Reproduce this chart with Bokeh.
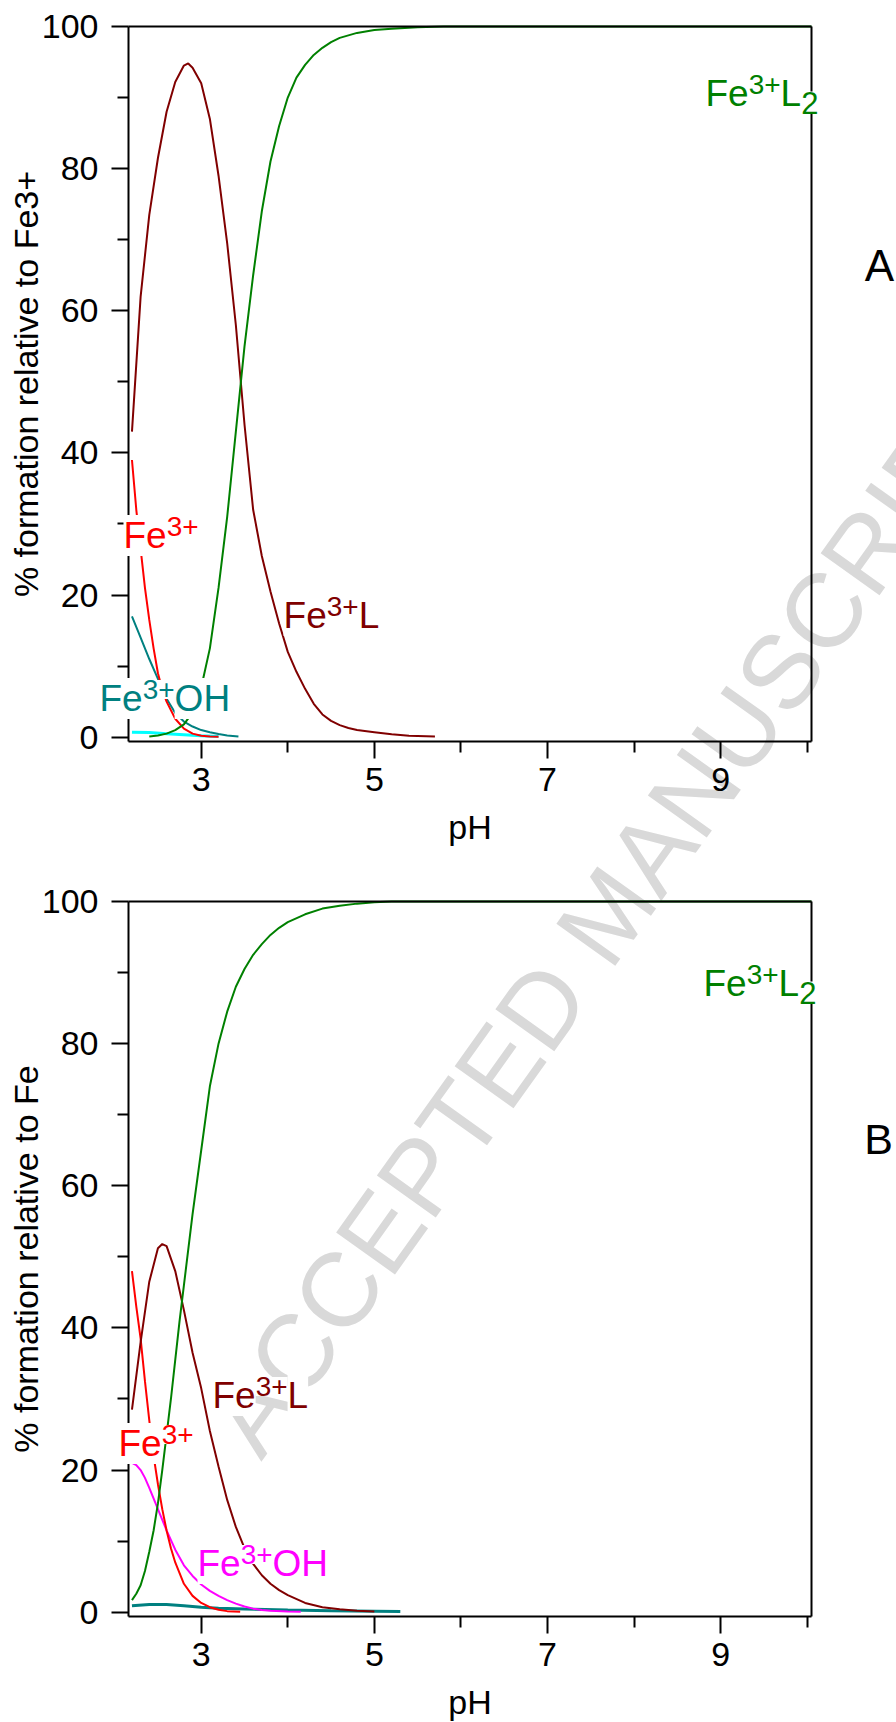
import math

from bokeh.embed import file_html
from bokeh.models import FixedTicker, Label, LinearAxis, Range1d
from bokeh.plotting import figure
from bokeh.resources import INLINE

# ---------------------------------------------------------------- panel A ---
# Species distribution, % relative to Fe3+
a_ph_fe = [2.2, 2.25, 2.3, 2.35, 2.4, 2.45, 2.5, 2.55, 2.6, 2.7, 2.8, 2.9, 3.0, 3.1, 3.2]
a_fe = [39, 32, 26.5, 21, 16.5, 12.5, 9, 6.7, 5, 2.6, 1.2, 0.5, 0.2, 0.1, 0.05]

a_ph_fel = [2.2, 2.3, 2.4, 2.5, 2.6, 2.7, 2.8, 2.85, 2.9, 3.0, 3.1, 3.2, 3.3, 3.4, 3.5,
            3.6, 3.7, 3.8, 3.9, 4.0, 4.1, 4.2, 4.3, 4.4, 4.5, 4.6, 4.7, 4.8, 5.0, 5.2,
            5.4, 5.7]
a_fel = [43, 62, 73.5, 81.5, 88, 92.2, 94.5, 94.8, 94.2, 92, 87, 79, 69.5, 58, 44,
         32, 25.5, 20.5, 16, 12, 9.2, 6.8, 4.7, 3.2, 2.3, 1.7, 1.3, 1.0, 0.7, 0.4,
         0.2, 0.1]

a_ph_fel2 = [2.4, 2.5, 2.6, 2.7, 2.8, 2.9, 3.0, 3.1, 3.2, 3.3, 3.4, 3.5, 3.6, 3.7,
             3.8, 3.9, 4.0, 4.1, 4.2, 4.3, 4.4, 4.5, 4.6, 4.8, 5.0, 5.2, 5.5, 5.8,
             6.5, 8.0, 10.05]
a_fel2 = [0.1, 0.25, 0.5, 1.0, 1.8, 3.5, 7, 12.5, 21, 31, 43, 55, 65, 74,
          81, 86, 90, 92.8, 94.6, 96, 97, 97.8, 98.4, 99.1, 99.5, 99.7, 99.9, 100,
          100, 100, 100]

a_ph_feoh = [2.2, 2.3, 2.4, 2.5, 2.6, 2.7, 2.8, 2.9, 3.0, 3.1, 3.2, 3.3, 3.43]
a_feoh = [17, 14, 11, 8.2, 5.4, 3.4, 2.2, 1.5, 1.0, 0.7, 0.45, 0.25, 0.1]

a_ph_minor = [2.2, 2.4, 2.6, 2.8, 3.0, 3.2]
a_minor = [0.7, 0.65, 0.5, 0.35, 0.2, 0.1]

# ---------------------------------------------------------------- panel B ---
# Species distribution, % relative to total Fe
b_ph_fe = [2.2, 2.25, 2.3, 2.35, 2.4, 2.45, 2.5, 2.55, 2.6, 2.65, 2.7, 2.8, 2.9, 3.0,
           3.1, 3.2, 3.3, 3.45]
b_fe = [48, 43, 38.5, 32.5, 27, 22, 18, 14.5, 11.5, 9, 7, 4, 2.3, 1.3,
        0.7, 0.35, 0.15, 0.05]

b_ph_fel = [2.2, 2.3, 2.4, 2.5, 2.55, 2.6, 2.7, 2.8, 2.9, 3.0, 3.1, 3.2, 3.3, 3.4,
            3.5, 3.6, 3.7, 3.8, 3.9, 4.0, 4.2, 4.4, 4.6, 4.8, 5.0]
b_fel = [28.5, 38, 46.5, 51.2, 51.8, 51.5, 48, 42.5, 36.5, 31.5, 25.5, 20.5, 15.8, 12,
         9.0, 6.8, 5.2, 4.0, 3.1, 2.4, 1.3, 0.7, 0.4, 0.2, 0.1]

b_ph_fel2 = [2.2, 2.25, 2.3, 2.35, 2.4, 2.45, 2.5, 2.55, 2.6, 2.65, 2.7, 2.75, 2.8,
             2.9, 3.0, 3.1, 3.2, 3.3, 3.4, 3.5, 3.6, 3.7, 3.8, 3.9, 4.0, 4.2, 4.4,
             4.6, 4.8, 5.0, 5.2, 6.5, 8.0, 10.05]
b_fel2 = [1.7, 2.6, 3.8, 5.8, 8.5, 11.5, 15.3, 20, 25, 30, 35.5, 41, 46,
          56, 65, 74, 80, 84.5, 88, 90.5, 92.5, 94, 95.3, 96.3, 97.1, 98.2, 99,
          99.4, 99.7, 99.9, 100, 100, 100, 100]

b_ph_feoh = [2.2, 2.25, 2.3, 2.35, 2.4, 2.5, 2.6, 2.7, 2.8, 2.9, 3.0, 3.1, 3.2, 3.3,
             3.4, 3.5, 3.6, 3.7, 3.8, 4.0, 4.15]
b_feoh = [21, 20.7, 20, 18.9, 17.5, 14.5, 11.5, 8.8, 6.6, 5.1, 3.9, 3.0, 2.3, 1.7,
          1.2, 0.8, 0.5, 0.3, 0.2, 0.1, 0.05]

b_ph_minor = [2.2, 2.4, 2.6, 2.8, 3.0, 3.2, 3.5, 4.0, 4.5, 5.0, 5.3]
b_minor = [0.9, 1.1, 1.1, 0.9, 0.7, 0.55, 0.45, 0.3, 0.2, 0.15, 0.1]

x_ticks = [3, 5, 7, 9]
x_minor_ticks = [4, 6, 8, 10]
y_ticks = [0, 20, 40, 60, 80, 100]
y_minor_ticks = [10, 30, 50, 70, 90]

PH_MIN, PH_MAX = 2.16, 10.05      # extent of each panel's box along pH
PCT_MIN, PCT_MAX = -0.6, 100      # extent of each panel's box along %

GREEN = "#008000"
MAROON = "#800000"
RED = "#ff0000"
TEAL = "#008080"
CYAN = "#00ffff"
MAGENTA = "#ff00ff"

FONT = "Liberation Sans"

# advance widths (1/1000 em) of the glyphs used in the species names
ADVANCE = {"F": 611, "e": 556, "3": 556, "+": 584, "L": 556, "O": 778, "H": 722, "2": 556}
SIZES = {"base": 37, "sup": 28, "sub": 31}
SHIFT = {"base": 0, "sup": 9, "sub": -9}

# One canvas holds both panels; each panel has its own % scale.
p = figure(width=896, height=1722, x_range=Range1d(0.6813, 11.0319),
           y_range=Range1d(-138.638, 103.658), x_axis_type=None, y_axis_type=None,
           output_backend="svg", toolbar_location=None,
           min_border_left=0, min_border_right=0, min_border_top=0, min_border_bottom=0)
p.extra_y_ranges = {"b": Range1d(-15.520, 226.776)}
p.grid.visible = False
p.outline_line_color = None
p.background_fill_color = "white"
p.border_fill_color = "white"


def style_axis(ax):
    ax.axis_line_width = 2
    ax.axis_line_color = "black"
    ax.major_tick_line_width = 2
    ax.minor_tick_line_width = 2
    ax.major_tick_line_color = "black"
    ax.minor_tick_line_color = "black"
    ax.major_tick_in = 0
    ax.major_tick_out = 17
    ax.minor_tick_in = 0
    ax.minor_tick_out = 11
    ax.major_label_text_font = FONT
    ax.major_label_text_font_size = "34px"
    ax.major_label_text_color = "black"
    ax.axis_label_text_font = FONT
    ax.axis_label_text_font_size = "34px"
    ax.axis_label_text_font_style = "normal"
    ax.axis_label_text_color = "black"


def add_frame(range_name, ylabel):
    kw = {} if range_name is None else {"y_range_name": range_name}
    xax = LinearAxis(fixed_location=PCT_MIN, bounds=(PH_MIN, PH_MAX), axis_label="pH",
                     ticker=FixedTicker(ticks=x_ticks, minor_ticks=x_minor_ticks), **kw)
    style_axis(xax)
    xax.major_label_standoff = 10
    xax.axis_label_standoff = 13
    p.add_layout(xax, "below")

    yax = LinearAxis(fixed_location=PH_MIN, bounds=(PCT_MIN, PCT_MAX), axis_label=ylabel,
                     ticker=FixedTicker(ticks=y_ticks, minor_ticks=y_minor_ticks), **kw)
    style_axis(yax)
    yax.major_label_standoff = 13
    yax.axis_label_standoff = -6
    p.add_layout(yax, "left")

    # closing lines of the box: top and right
    top = LinearAxis(fixed_location=PCT_MAX, bounds=(PH_MIN, PH_MAX),
                     ticker=FixedTicker(ticks=[]), **kw)
    style_axis(top)
    top.major_tick_out = 0
    top.minor_tick_out = 0
    p.add_layout(top, "above")

    right = LinearAxis(fixed_location=PH_MAX, bounds=(PCT_MIN, PCT_MAX),
                       ticker=FixedTicker(ticks=[]), **kw)
    style_axis(right)
    right.major_tick_out = 0
    right.minor_tick_out = 0
    p.add_layout(right, "right")


def curve(xs, ys, color, width, range_name=None):
    kw = {} if range_name is None else {"y_range_name": range_name}
    p.line(xs, ys, line_color=color, line_width=width, level="guide", **kw)


def chem_label(x, y, parts, color, range_name=None):
    """Species name built from normal, superscript and subscript pieces."""
    kw = {} if range_name is None else {"y_range_name": range_name}
    dx = 0.0
    for text, kind in parts:
        size = SIZES[kind]
        p.add_layout(Label(x=x, y=y, x_offset=dx, y_offset=SHIFT[kind], text=text,
                           text_color=color, text_font=FONT,
                           text_font_size=f"{size}px", text_baseline="alphabetic",
                           text_align="left", background_fill_color="white", **kw))
        dx += sum(ADVANCE[c] for c in text) * size / 1000.0


# watermark across both panels, beneath everything else
p.add_layout(Label(x=3.35, y=-99.0, text="ACCEPTED MANUSCRIPT", angle=math.radians(54.5),
                   text_color="#d9d9d9", text_font=FONT, text_font_size="105px",
                   text_baseline="alphabetic", text_align="left", level="underlay"))

# ---- panel A
add_frame(None, "% formation relative to Fe3+")
curve(a_ph_minor, a_minor, CYAN, 3)
curve(a_ph_feoh, a_feoh, TEAL, 2)
curve(a_ph_fe, a_fe, RED, 2)
curve(a_ph_fel, a_fel, MAROON, 2)
curve(a_ph_fel2, a_fel2, GREEN, 2)

chem_label(8.825, 90.57, [("Fe", "base"), ("3+", "sup"), ("L", "base"), ("2", "sub")], GREEN)
chem_label(2.102, 28.38, [("Fe", "base"), ("3+", "sup")], RED)
chem_label(3.951, 17.12, [("Fe", "base"), ("3+", "sup"), ("L", "base")], MAROON)
chem_label(1.825, 5.45, [("Fe", "base"), ("3+", "sup"), ("OH", "base")], TEAL)
p.add_layout(Label(x=10.835, y=66.37, text="A", text_font=FONT, text_font_size="44px",
                   text_color="black", text_align="center", text_baseline="alphabetic"))

# ---- panel B
add_frame("b", "% formation relative to Fe")
curve(b_ph_minor, b_minor, TEAL, 3, "b")
curve(b_ph_feoh, b_feoh, MAGENTA, 2, "b")
curve(b_ph_fe, b_fe, RED, 2, "b")
curve(b_ph_fel, b_fel, MAROON, 2, "b")
curve(b_ph_fel2, b_fel2, GREEN, 2, "b")

chem_label(8.802, 88.46, [("Fe", "base"), ("3+", "sup"), ("L", "base"), ("2", "sub")], GREEN, "b")
chem_label(3.130, 30.49, [("Fe", "base"), ("3+", "sup"), ("L", "base")], MAROON, "b")
chem_label(2.044, 23.74, [("Fe", "base"), ("3+", "sup")], RED, "b")
chem_label(2.957, 6.85, [("Fe", "base"), ("3+", "sup"), ("OH", "base")], MAGENTA, "b")
p.add_layout(Label(x=10.824, y=66.65, text="B", text_font=FONT, text_font_size="43px",
                   text_color="black", text_align="center", text_baseline="alphabetic",
                   y_range_name="b"))

with open("out.html", "w") as f:
    f.write(file_html(p, INLINE))
